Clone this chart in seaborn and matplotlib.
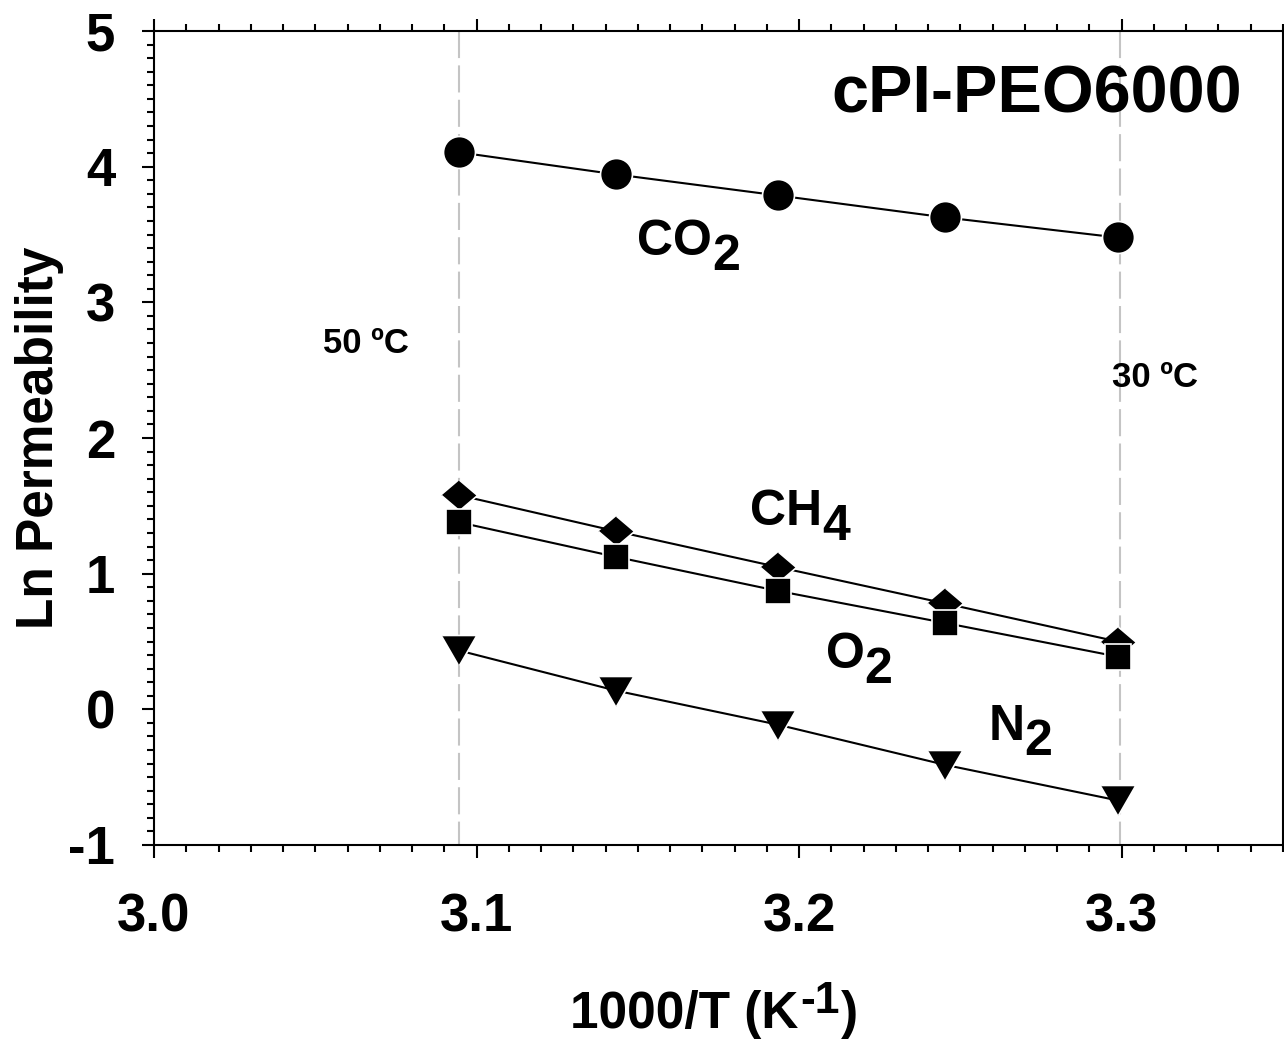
import matplotlib
matplotlib.use("Agg")
import matplotlib.pyplot as plt
import seaborn as sns
import numpy as np
import pandas as pd
from matplotlib.ticker import MultipleLocator

# ---- data ----
inv_T = [3.0945, 3.1432, 3.1934, 3.2452, 3.2987]
co2 = [4.106, 3.943, 3.788, 3.626, 3.478]
ch4 = [1.579, 1.313, 1.049, 0.781, 0.500]
o2 = [1.379, 1.124, 0.873, 0.637, 0.389]
n2 = [0.434, 0.138, -0.113, -0.409, -0.671]
x_ticks = [3.0, 3.1, 3.2, 3.3]
x_tick_labels = ["3.0", "3.1", "3.2", "3.3"]
y_ticks = [-1, 0, 1, 2, 3, 4, 5]
y_tick_labels = ["-1", "0", "1", "2", "3", "4", "5"]
temp_lines = [3.0945, 3.2995]

sns.set_theme(style="ticks")
plt.rcParams["font.family"] = ["Liberation Sans", "DejaVu Sans"]
plt.rcParams["font.weight"] = "bold"
plt.rcParams["axes.linewidth"] = 1.5

W, H = 1284, 1052
fig = plt.figure(figsize=(W / 100, H / 100), dpi=100)
ax = fig.add_axes([154 / W, 1 - 845 / H, (1283 - 154) / W, (845 - 31) / H])
ax.set_facecolor("white")
for s in ax.spines.values():
    s.set_color("black")
    s.set_linewidth(1.5)

# reference temperature lines
ax.vlines(temp_lines, ymin=5, ymax=-1, colors="#c4c4c4", linestyles=(0, (13, 3.5)),
          linewidth=1.5, zorder=1)

tri = [(-1, 0.866), (1, 0.866), (0, -0.866)]
dia = [(0, 0.85), (1, 0), (0, -0.85), (-1, 0)]

common = dict(color="black", markeredgecolor="white", markeredgewidth=1.2,
              linewidth=1.5, ax=ax, zorder=3)
sns.lineplot(x=inv_T, y=n2, marker=tri, markersize=25, **common)
sns.lineplot(x=inv_T, y=co2, marker="o", markersize=23, **common)
sns.lineplot(x=inv_T, y=ch4, marker=dia, markersize=26, **common)
sns.lineplot(x=inv_T, y=o2, marker="s", markersize=19, **common)

ax.set_xlim(3.0, 3.35)
ax.set_ylim(-1, 5)
ax.set_xticks(x_ticks)
ax.set_xticklabels(x_tick_labels)
ax.set_yticks(y_ticks)
ax.set_yticklabels(y_tick_labels)
ax.xaxis.set_minor_locator(MultipleLocator(0.01))
ax.yaxis.set_minor_locator(MultipleLocator(0.1))
ax.tick_params(axis="both", which="both", direction="out", color="black", width=1.5)
ax.tick_params(axis="both", which="major", length=9, labelsize=38, labelcolor="black")
ax.tick_params(axis="both", which="minor", length=5)
ax.tick_params(axis="x", which="both", top=True, bottom=True, pad=25)
ax.tick_params(axis="y", which="both", left=True, right=False, pad=19)
for lab in ax.get_xticklabels() + ax.get_yticklabels():
    lab.set_fontweight("bold")
ax.set_xlabel("")
ax.set_ylabel("")


def chain(x, y, pieces, transform, ha_first="left"):
    s0, size0 = pieces[0][0], pieces[0][1]
    prev = ax.text(x, y, s0, fontsize=size0, fontweight="bold", color="black",
                   transform=transform, ha=ha_first, va="baseline", zorder=5)
    for s, size, dy in pieces[1:]:
        prev = ax.annotate(s, xy=(1, 0), xycoords=prev, xytext=(0, dy),
                           textcoords="offset points", fontsize=size,
                           fontweight="bold", color="black", ha="left",
                           va="bottom", zorder=5)
    return prev


# gas labels (data coords)
chain(3.1497, 3.349, [("CO", 36), ("2", 36, -11)], ax.transData)
chain(3.1847, 1.359, [("CH", 36), ("4", 36, -11)], ax.transData)
chain(3.2082, 0.305, [("O", 36), ("2", 36, -11)], ax.transData)
chain(3.2587, -0.226, [("N", 36), ("2", 36, -11)], ax.transData)

ax.text(3.0525, 2.627, "50 ºC", fontsize=25, fontweight="bold", color="black",
        ha="left", va="baseline")
ax.text(3.2970, 2.376, "30 ºC", fontsize=25, fontweight="bold", color="black",
        ha="left", va="baseline")
ax.text(3.2100, 4.396, "cPI-PEO6000", fontsize=48, fontweight="bold", color="black",
        ha="left", va="baseline")

# axis labels
fig.text(40 / W, 1 - 438 / H, "Ln Permeability", rotation=90, fontsize=37,
         fontweight="bold", color="black", ha="center", va="center")
t1 = fig.text(570 / W, 1 - 1028 / H, "1000/T (K", fontsize=37, fontweight="bold",
              color="black", ha="left", va="baseline")
sup = ax.annotate("-1", xy=(1, 0), xycoords=t1, xytext=(1, 12),
                  textcoords="offset points", fontsize=32, fontweight="bold",
                  color="black", ha="left", va="bottom", annotation_clip=False)
ax.annotate(")", xy=(1, 0), xycoords=sup, xytext=(1, -12),
            textcoords="offset points", fontsize=37, fontweight="bold",
            color="black", ha="left", va="bottom", annotation_clip=False)

fig.savefig("out.png", dpi=100, facecolor="white")
